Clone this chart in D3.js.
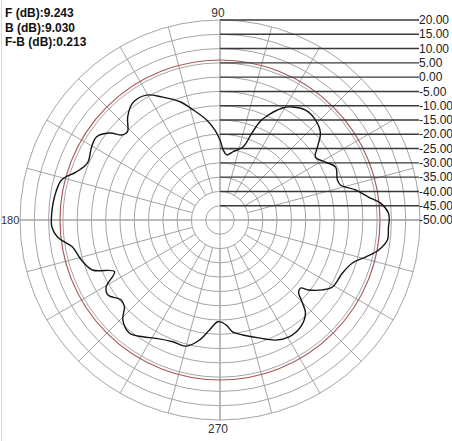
<!DOCTYPE html>
<html>
<head>
<meta charset="utf-8">
<script src="https://cdn.jsdelivr.net/npm/d3@7"></script>
<style>
html,body{margin:0;padding:0;background:#fff;}
svg{display:block;}
</style>
</head>
<body>
<svg id="chart" width="452" height="441"></svg>
<script>
// ---- data ----
const angles = [0, 2.4, 6, 8.8, 12.5, 16.2, 18.8, 24.6, 28.8, 33.4, 36.8, 40.9, 46.3, 52.1, 57.3, 60.8,
  66.2, 67.9, 69.9, 72.4, 79, 84.1, 87.3, 90, 93.2, 97.6, 103.6, 108.7, 115.1, 120.5, 126.8, 131.9,
  136.4, 138.9, 141.8, 146.1, 150.4, 156.7, 161.5, 165.8, 172.1, 180, 182.4, 186, 190.4, 196.1,
  201.4, 206.1, 210.4, 213.8, 219, 222.2, 225.8, 231.4, 236.5, 241.7, 248.8, 255, 260.3, 264.5,
  268.8, 273.4, 276.4, 281.1, 288.1, 294.8, 300.3, 306.9, 312.6, 314.8, 317.5, 319.8, 321.7,
  325.7, 329.2, 336.6, 342, 345.7, 349.3, 353.2, 357.6];
const gains = [9.24, 9.0, 6.5, 2.6, -1.4, -6.1, -6.6, -5.5, -7.9, -10.0, -7.4, -3.5, -1.6, -1.25, -3.0, -5.1,
  -10.6, -12.9, -17.7, -23.1, -25.6, -27.1, -25.5, -22.0, -18.5, -14.7, -10.4, -6.3, -2.5, 0.75, 1.1, -1.6,
  -5.3, -4.7, -0.8, 2.1, 1.7, 0.5, 3.0, 7.2, 8.5, 9.03, 8.9, 7.2, 2.5, 0.5,
  -2.05, -8.9, -3.8, -2.8, -5.5, -4.85, -1.2, 0.75, -1.0, -2.95, -4.3, -4.3, -7.4, -11.3,
  -14.4, -13.2, -10.6, -9.0, -6.6, -3.7, -2.5, -3.1, -5.8, -9.05, -12.7, -13.1, -10.5,
  -6.6, -4.2, -3.3, -1.25, 2.5, 6.5, 9.0, 9.0];
const ringLevels = [-45, -40, -35, -30, -25, -20, -15, -10, -5, 0, 5, 10, 15, 20];
const tickValues = [20, 15, 10, 5, 0, -5, -10, -15, -20, -25, -30, -35, -40, -45, -50];
const tickLabels = ["20.00", "15.00", "10.00", "5.00", "0.00", "-5.00", "-10.00", "-15.00", "-20.00",
  "-25.00", "-30.00", "-35.00", "-40.00", "-45.00", "-50.00"];
const spokeAngles = d3.range(0, 360, 15);
const axisLabels = [{t: "90", a: 90}, {t: "180", a: 180}, {t: "270", a: 270}];
const refLevel = 6;
const infoLines = ["F (dB):9.243", "B (dB):9.030", "F-B (dB):0.213"];

// ---- drawing ----
const svg = d3.select("#chart");
const cx = 220, cy = 220;
const r = d3.scaleLinear().domain([-50, 20]).range([0, 200]);
const toRad = d => (90 - d) * Math.PI / 180; // d3 radial: 0 = up, clockwise
const g = svg.append("g").attr("transform", `translate(${cx},${cy})`);

// left border line
svg.append("line").attr("x1", 1.5).attr("x2", 1.5).attr("y1", 0).attr("y2", 441)
  .attr("stroke", "#d8d8d8").attr("stroke-width", 1);

const grid = "#a4a4a4";
g.selectAll("circle.ring").data(ringLevels).join("circle")
  .attr("class", "ring").attr("r", d => r(d))
  .attr("fill", "none").attr("stroke", grid).attr("stroke-width", 1);

g.selectAll("line.spoke").data(spokeAngles).join("line")
  .attr("class", "spoke")
  .attr("x1", d => r(-40) * Math.cos(d * Math.PI / 180))
  .attr("y1", d => -r(-40) * Math.sin(d * Math.PI / 180))
  .attr("x2", d => r(20) * Math.cos(d * Math.PI / 180))
  .attr("y2", d => -r(20) * Math.sin(d * Math.PI / 180))
  .attr("stroke", grid).attr("stroke-width", 1);

// main axes
g.append("line").attr("x1", -r(20)).attr("x2", r(20)).attr("y1", 0).attr("y2", 0)
  .attr("stroke", grid).attr("stroke-width", 1);
g.append("line").attr("y1", -r(20)).attr("y2", r(20)).attr("x1", 0).attr("x2", 0)
  .attr("stroke", grid).attr("stroke-width", 1);

// reference circle
g.append("circle").attr("r", r(refLevel)).attr("fill", "none")
  .attr("stroke", "#a85a5a").attr("stroke-width", 1.2);

// leader lines and labels
const tick = g.selectAll("g.tick").data(tickValues).join("g").attr("class", "tick")
  .attr("transform", d => `translate(0,${-r(d)})`);
tick.append("line").attr("x1", 0).attr("x2", 199)
  .attr("stroke", (d, i) => i === tickValues.length - 1 ? grid : "#3a3a3a")
  .attr("stroke-width", (d, i) => i === tickValues.length - 1 ? 1 : 1.4);
tick.append("text").attr("x", 199).attr("dy", "0.35em")
  .attr("font-family", "Liberation Sans, Arial, sans-serif").attr("font-size", 12)
  .attr("fill", "#222").text((d, i) => tickLabels[i]);

// pattern curve
const pts = angles.map((a, i) => [toRad(a), r(gains[i])]);
const line = d3.lineRadial().angle(d => d[0]).radius(d => d[1]).curve(d3.curveCatmullRomClosed.alpha(0.5));
g.append("path").attr("d", line(pts)).attr("fill", "none")
  .attr("stroke", "#151515").attr("stroke-width", 1.4);

// angle labels
const lab = svg.append("g").attr("font-family", "Liberation Sans, Arial, sans-serif")
  .attr("font-size", 12).attr("fill", "#333");
lab.append("text").attr("x", cx - 2).attr("y", 17).attr("text-anchor", "middle").text(axisLabels[0].t);
lab.append("text").attr("x", 1).attr("y", cy + 4).attr("font-size", 11).attr("text-anchor", "start").text(axisLabels[1].t);
lab.append("text").attr("x", cx - 2).attr("y", 433).attr("text-anchor", "middle").text(axisLabels[2].t);

// info text
svg.append("g").selectAll("text").data(infoLines).join("text")
  .attr("x", 5).attr("y", (d, i) => 17 + i * 14.5)
  .attr("font-family", "Liberation Sans, Arial, sans-serif").attr("font-size", 12)
  .attr("font-weight", "bold").attr("fill", "#111").text(d => d);
</script>
</body>
</html>
